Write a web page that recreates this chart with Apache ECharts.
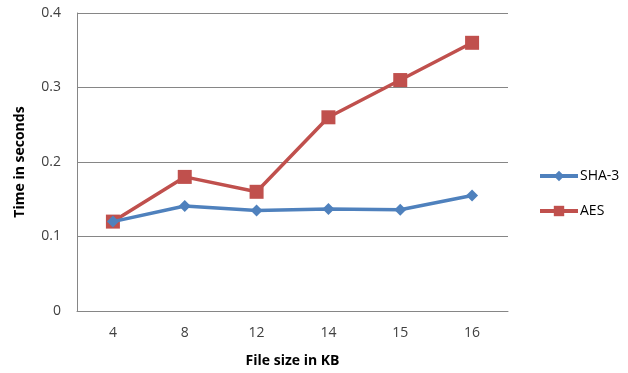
<!DOCTYPE html>
<html>
<head>
<meta charset="utf-8">
<script src="https://cdn.jsdelivr.net/npm/echarts@6/dist/echarts.min.js"></script>
<style>
  html, body { margin: 0; padding: 0; background: #fff; }
  #chart { width: 628px; height: 373px; }
</style>
</head>
<body>
<div id="chart"></div>
<script>
// File sizes (KB) on the category axis
const fileSizes = ['4', '8', '12', '14', '15', '16'];
// Processing time in seconds
const sha3Times = [0.12, 0.141, 0.135, 0.137, 0.136, 0.155];
const aesTimes = [0.12, 0.18, 0.16, 0.26, 0.31, 0.36];
const yTicks = [0, 0.1, 0.2, 0.3, 0.4];

const FONT = '"Open Sans", "Liberation Sans", sans-serif';
const chart = echarts.init(document.getElementById('chart'));

chart.setOption({
  animation: false,
  backgroundColor: '#ffffff',
  grid: { left: 77, right: 120, top: 13, bottom: 61 },
  legend: {
    orient: 'vertical',
    left: 533,
    top: 164,
    itemGap: 21,
    itemWidth: 38,
    itemHeight: 13,
    textStyle: { fontFamily: FONT, fontSize: 14, color: '#000', padding: [0, 0, 0, -3] },
    lineStyle: { width: 4 },
    data: ['SHA-3', 'AES']
  },
  xAxis: {
    type: 'category',
    data: fileSizes,
    boundaryGap: true,
    name: 'File size in KB',
    nameLocation: 'middle',
    nameGap: 43,
    nameTextStyle: { fontFamily: FONT, fontSize: 14, fontWeight: 'bold', color: '#000' },
    axisLine: { lineStyle: { color: '#868686', width: 1 } },
    axisTick: { show: false },
    axisLabel: { fontFamily: FONT, fontSize: 14, color: '#404040', margin: 15 }
  },
  yAxis: {
    type: 'value',
    min: 0,
    max: yTicks[yTicks.length - 1],
    interval: 0.1,
    name: 'Time in seconds',
    nameLocation: 'middle',
    nameGap: 50,
    nameTextStyle: { fontFamily: FONT, fontSize: 14, fontWeight: 'bold', color: '#000' },
    axisLine: { show: true, lineStyle: { color: '#868686', width: 1 } },
    axisTick: { show: false },
    splitLine: { lineStyle: { color: '#868686', width: 1 } },
    axisLabel: {
      fontFamily: FONT, fontSize: 14, color: '#404040', margin: 16,
      formatter: v => (yTicks.includes(Math.round(v * 10) / 10) ? String(Math.round(v * 10) / 10) : '')
    }
  },
  series: [
    {
      name: 'SHA-3',
      type: 'line',
      data: sha3Times,
      symbol: 'diamond',
      symbolSize: 12,
      itemStyle: { color: '#4F81BD' },
      lineStyle: { color: '#4F81BD', width: 3.5 },
      z: 3
    },
    {
      name: 'AES',
      type: 'line',
      data: aesTimes,
      symbol: 'rect',
      symbolSize: 14,
      itemStyle: { color: '#C0504D' },
      lineStyle: { color: '#C0504D', width: 3.5 },
      z: 2
    }
  ]
});
</script>
</body>
</html>
